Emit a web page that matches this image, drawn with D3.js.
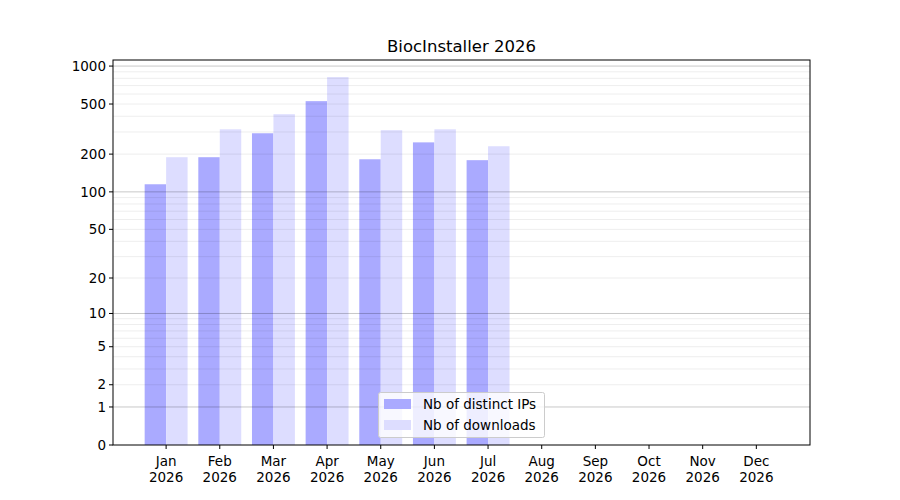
<!DOCTYPE html>
<html>
<head>
<meta charset="utf-8">
<script src="https://cdn.jsdelivr.net/npm/d3@7"></script>
<style>
body { margin: 0; background: #fff; }
text { font-family: "DejaVu Sans", sans-serif; fill: #000; }
</style>
</head>
<body>
<div id="chart"></div>
<script>
// BiocInstaller monthly stats
///

const months = ['Jan', 'Feb', 'Mar', 'Apr', 'May', 'Jun', 'Jul', 'Aug', 'Sep', 'Oct', 'Nov', 'Dec'];
const year = '2026';
const distinctIPs = [115, 189, 293, 527, 182, 248, 179];
const downloads = [189, 315, 415, 817, 310, 315, 231];
const yTicks = [0, 1, 2, 5, 10, 20, 50, 100, 200, 500, 1000];
const majorGrid = [1, 10, 100, 1000];
const seriesNames = ['Nb of distinct IPs', 'Nb of downloads'];
const seriesColors = ['#aaaaff', '#ddddff'];

const w = 900, h = 500;
const pLeft = 113, pRight = 810, pTop = 60, pBottom = 445;

let svg = d3.select('#chart').append('svg')
	.attr('width', w)
	.attr('height', h);

// log(1+x) scale, like the original
const log1p = d3.scaleLinear().domain([0, Math.log10(1118)]).range([pBottom, pTop]);
const y = v => log1p(Math.log10(1 + v));
const x = d3.scaleLinear().domain([-0.99, 12.0]).range([pLeft, pRight]);
const step = x(1) - x(0);
const bw = step * 0.4;

// bars
let bars = svg.append('g');
bars.selectAll('rect.ip')
	.data(distinctIPs)
	.enter().append('rect')
	.attr('x', (d, i) => x(i) - bw)
	.attr('width', bw)
	.attr('y', d => y(d))
	.attr('height', d => pBottom - y(d))
	.attr('fill', seriesColors[0]);
bars.selectAll('rect.dl')
	.data(downloads)
	.enter().append('rect')
	.attr('x', (d, i) => x(i))
	.attr('width', bw)
	.attr('y', d => y(d))
	.attr('height', d => pBottom - y(d))
	.attr('fill', seriesColors[1]);

// grid, minor lines first
let minor = [];
[1, 10, 100].forEach(m => { for (let k = 2; k <= 9; k++) minor.push(k * m); });
let grid = svg.append('g');
grid.selectAll('line.minor')
	.data(minor.filter(v => y(v) >= pTop))
	.enter().append('line')
	.attr('x1', pLeft).attr('x2', pRight)
	.attr('y1', d => y(d)).attr('y2', d => y(d))
	.attr('stroke', '#000').attr('stroke-opacity', 0.07).attr('stroke-width', 1);
grid.selectAll('line.major')
	.data(majorGrid)
	.enter().append('line')
	.attr('x1', pLeft).attr('x2', pRight)
	.attr('y1', d => y(d)).attr('y2', d => y(d))
	.attr('stroke', '#000').attr('stroke-opacity', 0.22).attr('stroke-width', 1);

// frame
svg.append('rect')
	.attr('x', pLeft).attr('y', pTop)
	.attr('width', pRight - pLeft).attr('height', pBottom - pTop)
	.attr('fill', 'none').attr('stroke', '#000').attr('stroke-width', 1);

// y axis
let yAxis = svg.append('g');
yAxis.selectAll('g')
	.data(yTicks)
	.enter().append('g')
	.each(function(d) {
		let g = d3.select(this);
		g.append('line').attr('x1', pLeft - 4).attr('x2', pLeft)
			.attr('y1', y(d)).attr('y2', y(d)).attr('stroke', '#000');
		g.append('text').attr('x', pLeft - 7).attr('y', y(d))
			.attr('dy', '0.35em').attr('text-anchor', 'end')
			.style('font-size', '13.5px').text(d);
	});

// x axis
let xAxis = svg.append('g');
xAxis.selectAll('g')
	.data(months)
	.enter().append('g')
	.each(function(d, i) {
		let g = d3.select(this);
		g.append('line').attr('x1', x(i)).attr('x2', x(i))
			.attr('y1', pBottom).attr('y2', pBottom + 4).attr('stroke', '#000');
		let t = g.append('text').attr('text-anchor', 'middle').style('font-size', '13.5px');
		t.append('tspan').attr('x', x(i)).attr('y', pBottom + 21).text(d);
		t.append('tspan').attr('x', x(i)).attr('y', pBottom + 37).text(year);
	});

// title
svg.append('text')
	.attr('x', (pLeft + pRight) / 2).attr('y', 52)
	.attr('text-anchor', 'middle')
	.style('font-size', '16.5px')
	.text('BiocInstaller ' + year);

// legend
let legend = svg.append('g');
legend.append('rect')
	.attr('x', 378.5).attr('y', 392.5).attr('width', 166).attr('height', 45)
	.attr('rx', 2)
	.attr('fill', '#fff').attr('fill-opacity', 0.8)
	.attr('stroke', '#ccc');
seriesNames.forEach((name, i) => {
	legend.append('rect')
		.attr('x', 384).attr('y', 399 + i * 21)
		.attr('width', 27).attr('height', 10)
		.attr('fill', seriesColors[i]);
	legend.append('text')
		.attr('x', 423).attr('y', 404 + i * 21)
		.attr('dy', '0.35em')
		.style('font-size', '13.5px')
		.text(name);
});
</script>
</body>
</html>
